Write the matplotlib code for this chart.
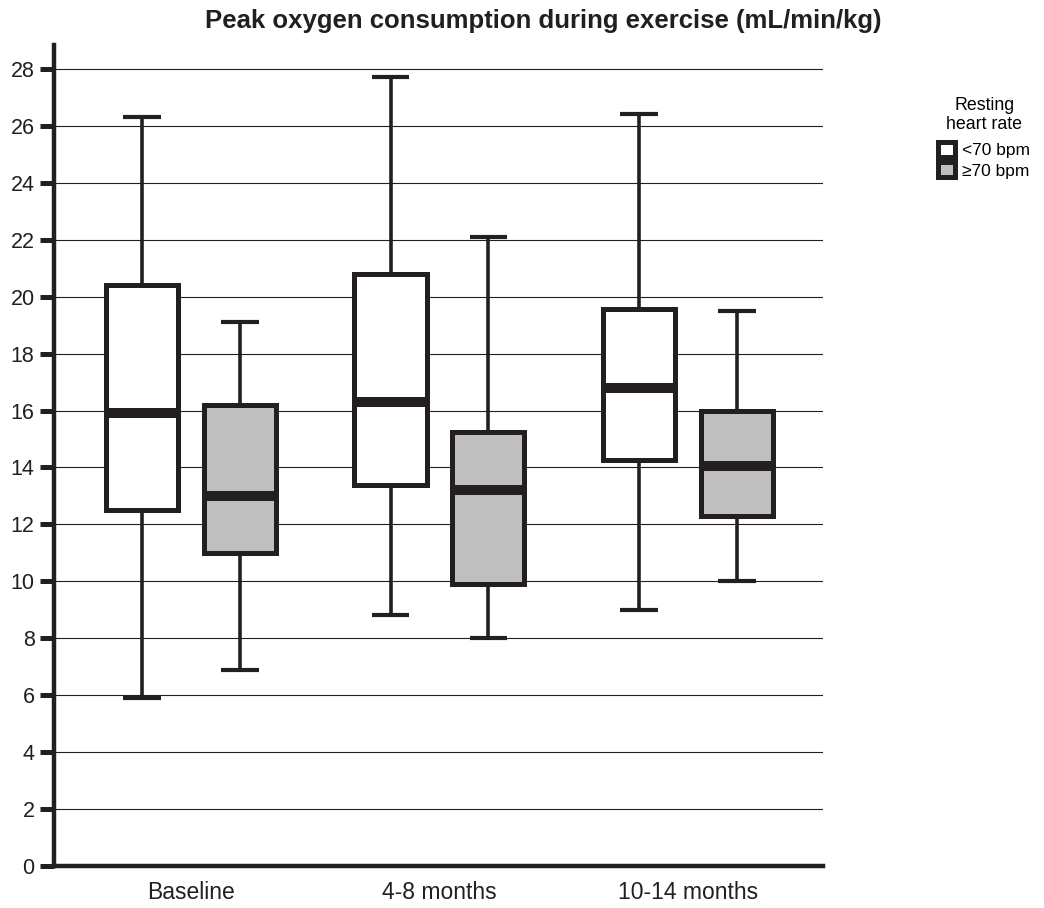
import matplotlib
matplotlib.use("Agg")
import matplotlib.pyplot as plt
from matplotlib.patches import Patch

plt.rcParams['font.family'] = ['Liberation Sans', 'DejaVu Sans']

categories = ["Baseline", "4-8 months", "10-14 months"]
groups = ["<70 bpm", "\u226570 bpm"]
# whisker low, Q1, median, Q3, whisker high
low_hr = {
    "whislo": [5.9, 8.8, 9.0],
    "q1": [12.5, 13.4, 14.25],
    "med": [15.9, 16.3, 16.8],
    "q3": [20.4, 20.8, 19.55],
    "whishi": [26.3, 27.7, 26.4],
}
high_hr = {
    "whislo": [6.9, 8.0, 10.0],
    "q1": [11.0, 9.9, 12.3],
    "med": [13.0, 13.2, 14.05],
    "q3": [16.2, 15.25, 16.0],
    "whishi": [19.1, 22.1, 19.5],
}
yticks = list(range(0, 30, 2))

fig = plt.figure(figsize=(10.44, 9.08), dpi=100)
ax = fig.add_axes([54/1044, 1-866/908, (823-54)/1044, (866-45)/908])

offset = 0.197
width = 0.29
fills = ["white", "#bfbfbf"]
for gi, data in enumerate([low_hr, high_hr]):
    stats = []
    for i in range(len(categories)):
        stats.append(dict(whislo=data["whislo"][i], q1=data["q1"][i], med=data["med"][i],
                          q3=data["q3"][i], whishi=data["whishi"][i], fliers=[]))
    pos = [i + (-offset if gi == 0 else offset) for i in range(len(categories))]
    ax.bxp(stats, positions=pos, widths=width, capwidths=0.15, patch_artist=True,
           showfliers=False, manage_ticks=False,
           boxprops=dict(facecolor=fills[gi], edgecolor="#231f20", linewidth=3.6),
           medianprops=dict(color="#231f20", linewidth=7.2, solid_capstyle="butt"),
           whiskerprops=dict(color="#231f20", linewidth=2.6),
           capprops=dict(color="#231f20", linewidth=3.0, solid_capstyle="butt"),
           zorder=3)

ax.set_xlim(-0.551, 2.543)
ax.set_ylim(0, 28.84)
ax.set_yticks(yticks)
ax.set_yticklabels([str(t) for t in yticks], fontsize=15.5, color="#231f20")
ax.set_xticks(range(len(categories)))
ax.set_xticklabels(categories, fontsize=16.5, color="#231f20")
ax.tick_params(axis="x", length=0, pad=11)
ax.tick_params(axis="y", direction="out", length=10, width=3.6, color="#231f20", pad=4)
ax.yaxis.grid(True, color="#231f20", linewidth=0.8, zorder=0)
ax.set_axisbelow(True)
for s in ["top", "right"]:
    ax.spines[s].set_visible(False)
for s in ["left", "bottom"]:
    ax.spines[s].set_linewidth(3.2)
    ax.spines[s].set_color("#231f20")

fig.text(0.520, 0.977, "Peak oxygen consumption during exercise (mL/min/kg)",
         ha="center", va="center", fontsize=18.5, fontweight="bold", color="#231f20")

handles = [Patch(facecolor=fills[0], edgecolor="#231f20", linewidth=3.6),
           Patch(facecolor=fills[1], edgecolor="#231f20", linewidth=3.6)]
leg = fig.legend(handles, groups, title="Resting\nheart rate", loc="upper left",
                 bbox_to_anchor=(0.887, 0.907), frameon=False, fontsize=12.5,
                 title_fontsize=12.8, handlelength=0.98, handleheight=0.98,
                 handletextpad=0.4, labelspacing=0.22, borderpad=0.2)
leg.get_title().set_multialignment("center")
leg._legend_box.sep = 6

fig.savefig("out.png", dpi=100)
